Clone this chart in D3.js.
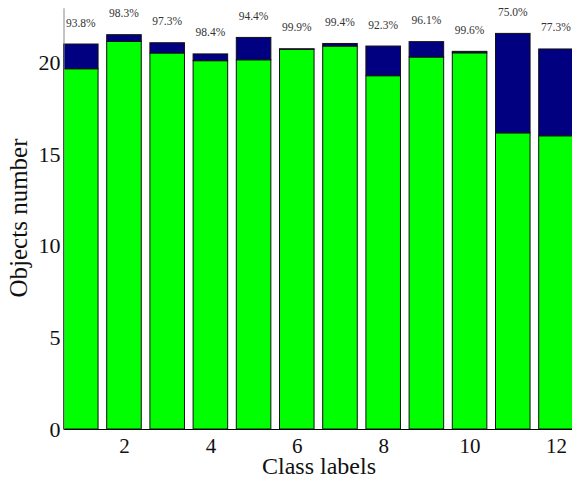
<!DOCTYPE html>
<html>
<head>
<meta charset="utf-8">
<script src="https://cdn.jsdelivr.net/npm/d3@7"></script>
<style>
  body { margin: 0; background: #fff; }
  svg { display: block; font-family: "Liberation Serif", "Times New Roman", serif; }
</style>
</head>
<body>
<svg id="vis" width="572" height="479"></svg>
<script>
// class labels and per-class counts
let classes = [1, 2, 3, 4, 5, 6, 7, 8, 9, 10, 11, 12];
let correct = [19.67, 21.16, 20.53, 20.11, 20.16, 20.73, 20.91, 19.29, 20.31, 20.54, 16.17, 16.01];
let wrong = [1.35, 0.37, 0.56, 0.37, 1.22, 0.03, 0.14, 1.62, 0.84, 0.08, 5.43, 4.74];
let accuracy = ["93.8%", "98.3%", "97.3%", "98.4%", "94.4%", "99.9%", "99.4%", "92.3%", "96.1%", "99.6%", "75.0%", "77.3%"];
let xTicks = [2, 4, 6, 8, 10, 12];
let yTicks = [0, 5, 10, 15, 20];

let svg = d3.select("#vis");
let x0 = 63.5, baseY = 429;

let x = d3.scaleLinear()
    .domain([0.6, 12.4])
    .range([x0, x0 + 11.8 * 43.2]);

let y = d3.scaleLinear()
    .domain([0, 23])
    .range([baseY, baseY - 23 * 18.315]);

let rows = classes.map((c, i) => ({cls: c, correct: correct[i], wrong: wrong[i], label: accuracy[i]}));
let series = d3.stack().keys(["correct", "wrong"])(rows);
let colors = {correct: "#00ff00", wrong: "#000080"};
let barW = x(1.4) - x(0.6);

svg.append("g")
    .selectAll("g")
    .data(series)
    .enter()
    .append("g")
    .attr("fill", d => colors[d.key])
    .selectAll("rect")
    .data(d => d)
    .enter()
    .append("rect")
    .attr("x", d => x(d.data.cls) - barW / 2)
    .attr("width", barW)
    .attr("y", d => y(d[1]))
    .attr("height", d => y(d[0]) - y(d[1]))
    .attr("stroke", "#111")
    .attr("stroke-width", 1);

// percentage labels above each bar
svg.append("g")
    .selectAll("text")
    .data(rows)
    .enter()
    .append("text")
    .attr("x", d => x(d.cls))
    .attr("y", d => y(d.correct + d.wrong) - 17.5)
    .attr("text-anchor", "middle")
    .attr("font-size", "11.5px")
    .attr("fill", "#333")
    .text(d => d.label);

// axes
let gx = svg.append("g")
    .attr("transform", "translate(0," + baseY + ")")
    .call(d3.axisBottom(x).tickValues(xTicks).tickSize(0).tickSizeOuter(0).tickFormat(d3.format("d")));
gx.select(".domain").attr("stroke", "#000").attr("stroke-width", 1.2);
gx.selectAll("text")
    .attr("y", 24)
    .attr("dy", null)
    .attr("font-size", "21px")
    .attr("font-family", "Liberation Serif, serif")
    .attr("fill", "#111");

let gy = svg.append("g")
    .attr("transform", "translate(" + x0 + ",0)")
    .call(d3.axisLeft(y).tickValues(yTicks).tickSize(0).tickSizeOuter(0).tickPadding(3));
gy.select(".domain").attr("stroke", "#888").attr("stroke-width", 1);
gy.selectAll("text")
    .attr("font-size", "22px")
    .attr("font-family", "Liberation Serif, serif")
    .attr("fill", "#111");

// axis titles
svg.append("text")
    .attr("x", 319)
    .attr("y", 474)
    .attr("text-anchor", "middle")
    .attr("font-size", "24px")
    .attr("fill", "#111")
    .text("Class labels");

svg.append("text")
    .attr("transform", "translate(27,218) rotate(-90)")
    .attr("text-anchor", "middle")
    .attr("font-size", "25px")
    .attr("fill", "#111")
    .text("Objects number");
</script>
</body>
</html>
